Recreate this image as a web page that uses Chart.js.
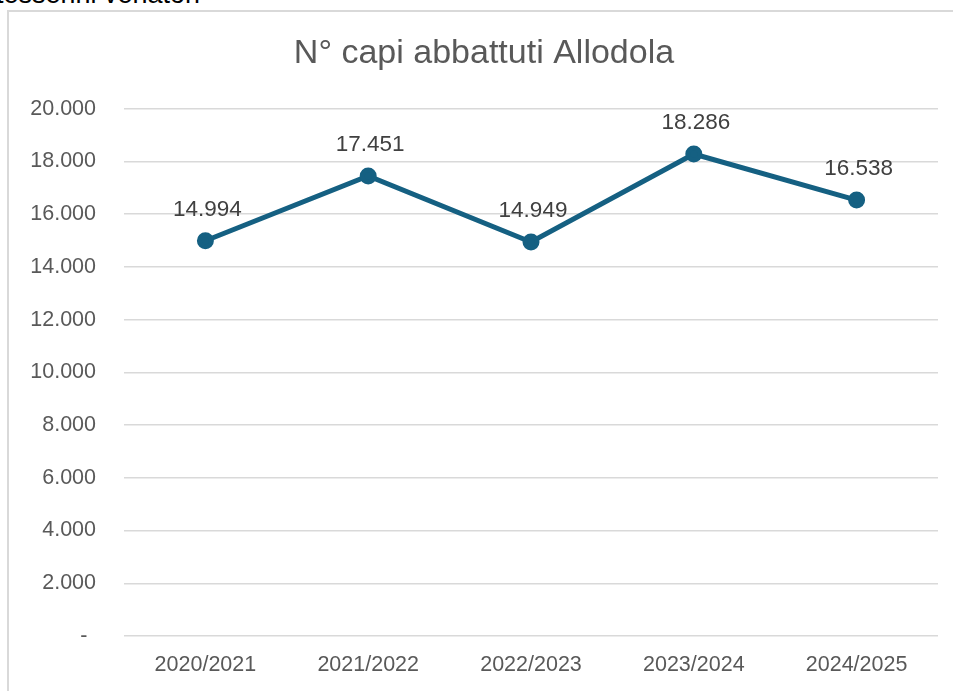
<!DOCTYPE html>
<html>
<head>
<meta charset="utf-8">
<script src="https://cdn.jsdelivr.net/npm/chart.js@4/dist/chart.umd.min.js"></script>
<style>
  html, body { margin: 0; padding: 0; width: 953px; height: 691px; overflow: hidden; background: #fff; }
  #cut { position: absolute; left: -4px; top: -19px; font: 27px 'Liberation Sans', Arial, sans-serif; line-height: 27px; color: #000; white-space: nowrap; }
  #frame { position: absolute; left: 7px; top: 10px; width: 1000px; height: 700px; border-left: 2px solid #d9d9d9; border-top: 2px solid #d9d9d9; }
  #wrap { position: absolute; left: 9px; top: 12px; width: 956px; height: 679px; }
  #chart { display: block; width: 956px; height: 679px; }
</style>
</head>
<body>
<div id="cut">tesserini venatori</div>
<div id="frame"></div>
<div id="wrap"><canvas id="chart" width="956" height="679"></canvas></div>
<script>
const seasons = ['2020/2021', '2021/2022', '2022/2023', '2023/2024', '2024/2025'];
const abbattuti = [14994, 17451, 14949, 18286, 16538];
const yTicks = [0, 2000, 4000, 6000, 8000, 10000, 12000, 14000, 16000, 18000, 20000];

const fmt = v => String(v).replace(/\B(?=(\d{3})+(?!\d))/g, '.');

// simple data labels above each point
const pointLabels = {
  id: 'pointLabels',
  afterDatasetsDraw(chart) {
    const ctx = chart.ctx;
    const meta = chart.getDatasetMeta(0);
    ctx.save();
    ctx.font = '22.5px "Liberation Sans", Arial, sans-serif';
    ctx.fillStyle = '#404040';
    ctx.textAlign = 'center';
    ctx.textBaseline = 'middle';
    meta.data.forEach((pt, i) => {
      ctx.fillText(fmt(abbattuti[i]), pt.x + 2, pt.y - 31);
    });
    ctx.restore();
  }
};

new Chart(document.getElementById('chart'), {
  type: 'line',
  data: {
    labels: seasons,
    datasets: [{
      data: abbattuti,
      borderColor: '#156082',
      backgroundColor: '#156082',
      borderWidth: 5,
      pointRadius: 6,
      pointHoverRadius: 6,
      tension: 0
    }]
  },
  options: {
    responsive: false,
    animation: false,
    devicePixelRatio: 1,
    layout: { padding: { left: 21, right: 27, top: 0, bottom: 0 } },
    plugins: {
      legend: { display: false },
      tooltip: { enabled: false },
      title: {
        display: true,
        text: 'N° capi abbattuti Allodola',
        color: '#595959',
        font: { size: 34, family: '"Liberation Sans", Arial, sans-serif', weight: 'normal' },
        padding: { top: 21, bottom: 35 }
      }
    },
    scales: {
      x: {
        offset: true,
        grid: { display: false, drawTicks: false },
        border: { display: false },
        ticks: {
          color: '#595959',
          padding: 16,
          maxRotation: 0,
          font: { size: 21.5, family: '"Liberation Sans", Arial, sans-serif' }
        },
        afterFit(scale) { scale.height = 55; }
      },
      y: {
        min: 0,
        max: 20000,
        afterBuildTicks(scale) { scale.ticks = yTicks.map(v => ({ value: v })); },
        grid: { color: '#d9d9d9', lineWidth: 1.5, drawTicks: false },
        border: { display: false },
        ticks: {
          color: '#595959',
          padding: 28,
          font: { size: 21.5, family: '"Liberation Sans", Arial, sans-serif' },
          callback: v => v === 0 ? '-\u2009\u2009' : fmt(v)
        },
        afterFit(scale) { scale.width = 94; }
      }
    }
  },
  plugins: [pointLabels]
});
</script>
</body>
</html>
